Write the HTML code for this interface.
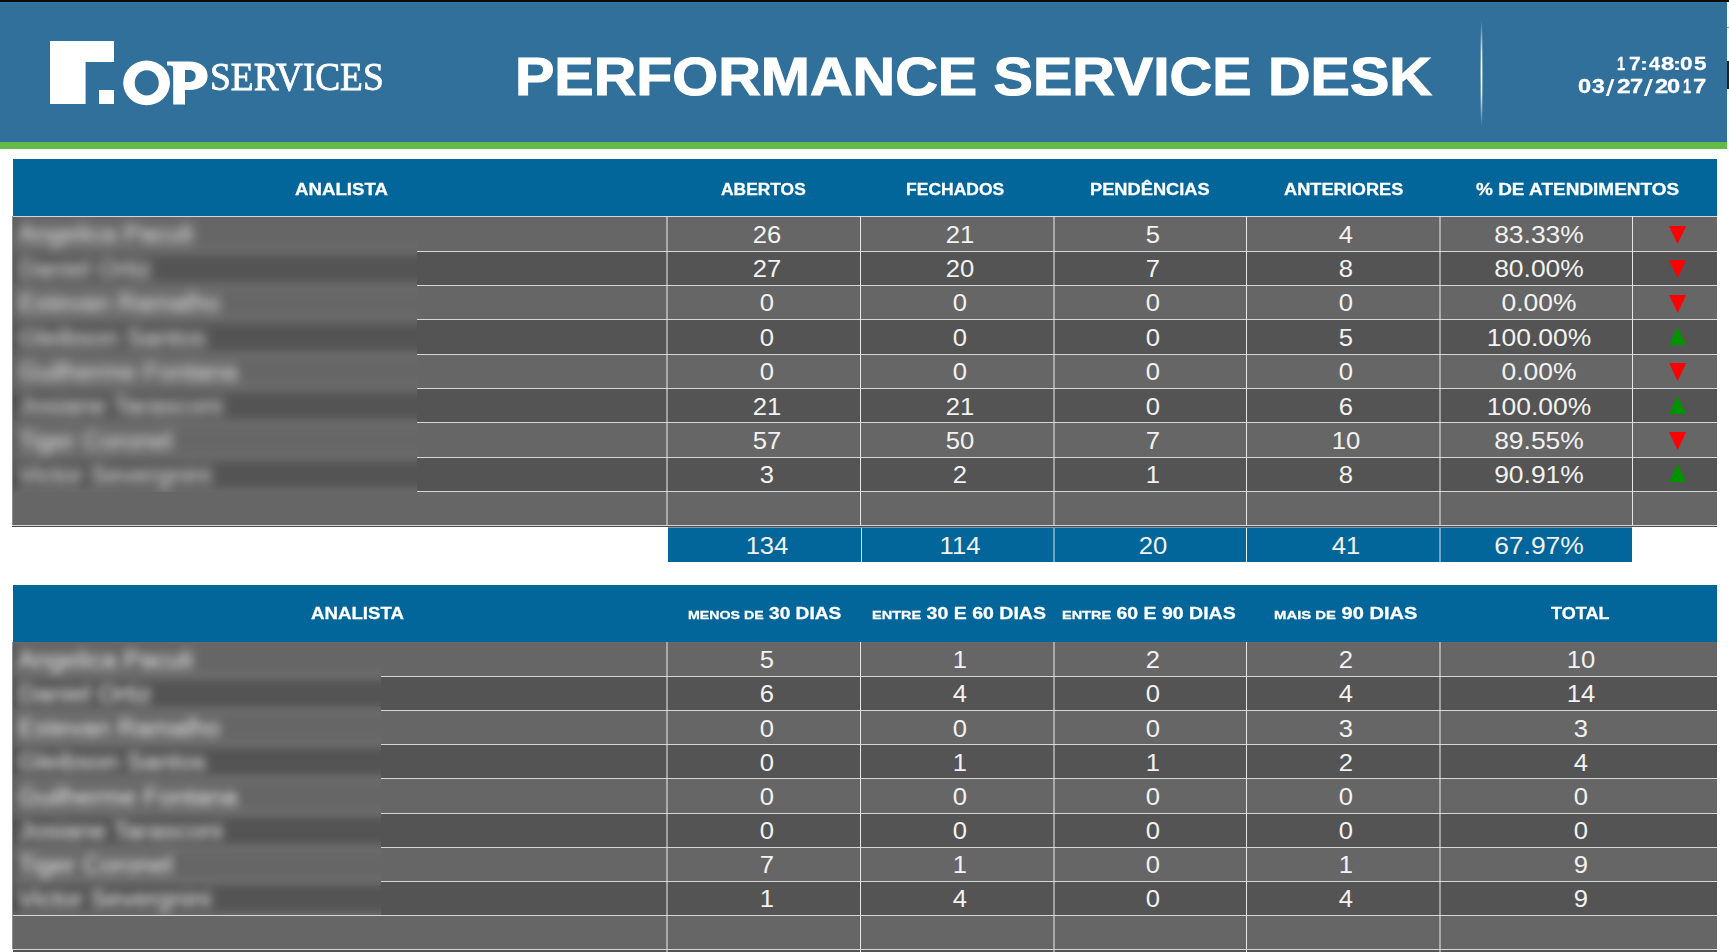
<!DOCTYPE html><html><head><meta charset="utf-8"><title>Performance Service Desk</title><style>
*{margin:0;padding:0;box-sizing:border-box}
html,body{width:1729px;height:952px;overflow:hidden;background:#fff}
body{position:relative;font-family:"Liberation Sans",sans-serif}
.a{position:absolute}
.t{position:absolute;white-space:nowrap;line-height:1;transform-origin:0 0}
.c{position:absolute;white-space:nowrap;line-height:1}
</style></head><body>
<div class="a" style="left:0;top:0;width:1729px;height:2px;background:#0d0b0b"></div>
<div class="a" style="left:0;top:2px;width:1727px;height:140px;background:#30709b"></div>
<div class="a" style="left:0;top:2px;width:1727px;height:1px;background:#3379a4"></div>
<div class="a" style="left:0;top:142px;width:1727px;height:7px;background:#63ba47"></div>
<div class="a" style="left:1727px;top:2px;width:2px;height:148px;background:#f8f8f8"></div>
<div class="a" style="left:1727px;top:27px;width:2px;height:1px;background:#999"></div>
<div class="a" style="left:1727px;top:61px;width:2px;height:28px;background:#222"></div>
<svg class="a" style="left:0;top:0" width="420" height="140" viewBox="0 0 420 140">
<path fill="#fff" d="M50,41H114V62H85.6V104H50Z M99,90H114V104H99Z"/>
<path fill="#fff" fill-rule="evenodd" d="M123.2,82.9a23.4,22.4 0 1,0 46.8,0a23.4,22.4 0 1,0 -46.8,0Z M134.7,82.9a12.05,12.6 0 1,0 24.1,0a12.05,12.6 0 1,0 -24.1,0Z"/>
<path fill="#fff" fill-rule="evenodd" d="M167.1,61.4H189C200.5,61.4 207.6,67 207.6,75.7C207.6,84.5 200.5,90 189,90H185V104.6H173.2V68.4C173.2,66.3 172.2,65.4 170,65.4H167.1Z M185,70.1H189.3C193.5,70.1 195.7,72.6 195.7,76C195.7,79.4 193.5,81.9 189.3,81.9H185Z"/>
</svg>
<div class="t" style="left:209.84px;top:55.82px;transform:scale(0.8808,0.9633);font-family:'Liberation Serif',serif;font-size:42.5px;color:#fff;-webkit-text-stroke-width:0.8px">SERVICES</div>
<div class="t" style="left:514.89px;top:49.62px;transform:scale(1.0351,0.9405);font-weight:bold;font-size:57px;color:#fff;-webkit-text-stroke-width:1.2px">PERFORMANCE SERVICE DESK</div>
<div class="a" style="left:1481px;top:20px;width:1px;height:107px;background:linear-gradient(to bottom,rgba(255,255,255,0),rgba(255,255,255,.85) 30%,#fff 50%,rgba(255,255,255,.85) 70%,rgba(255,255,255,0))"></div>
<div class="a" style="left:1480px;top:24px;width:1px;height:99px;background:linear-gradient(to bottom,rgba(255,255,255,0),rgba(255,255,255,.3) 30%,rgba(255,255,255,.4) 50%,rgba(255,255,255,.3) 70%,rgba(255,255,255,0))"></div>
<div class="a" style="left:1482px;top:24px;width:1px;height:99px;background:linear-gradient(to bottom,rgba(255,255,255,0),rgba(255,255,255,.3) 30%,rgba(255,255,255,.4) 50%,rgba(255,255,255,.3) 70%,rgba(255,255,255,0))"></div>
<div class="t" style="left:1617.11px;top:54.06px;transform:scale(0.7400,0.9714);font-weight:bold;font-size:19.5px;color:#fff;-webkit-text-stroke-width:0.3px">1</div>
<div class="t" style="left:1628.61px;top:54.06px;transform:scale(1.0889,0.9714);font-weight:bold;font-size:19.5px;color:#fff;-webkit-text-stroke-width:0.3px">7</div>
<div class="t" style="left:1648.5px;top:54.06px;transform:scale(1.0182,0.9714);font-weight:bold;font-size:19.5px;color:#fff;-webkit-text-stroke-width:0.3px">4</div>
<div class="t" style="left:1660.58px;top:54.06px;transform:scale(1.2222,0.9714);font-weight:bold;font-size:19.5px;color:#fff;-webkit-text-stroke-width:0.3px">8</div>
<div class="t" style="left:1679.94px;top:54.06px;transform:scale(1.1556,0.9714);font-weight:bold;font-size:19.5px;color:#fff;-webkit-text-stroke-width:0.3px">0</div>
<div class="t" style="left:1693.54px;top:54.06px;transform:scale(1.1556,0.9714);font-weight:bold;font-size:19.5px;color:#fff;-webkit-text-stroke-width:0.3px">5</div>
<div class="t" style="left:1640.23px;top:56.65px;transform:scale(1.2333,0.8091);font-weight:bold;font-size:19.5px;color:#fff;-webkit-text-stroke-width:0.3px">:</div>
<div class="t" style="left:1672.63px;top:56.65px;transform:scale(1.2333,0.8091);font-weight:bold;font-size:19.5px;color:#fff;-webkit-text-stroke-width:0.3px">:</div>
<div class="t" style="left:1578.49px;top:77.1px;transform:scale(1.2111,1.0000);font-weight:bold;font-size:19.5px;color:#fff;-webkit-text-stroke-width:0.3px">0</div>
<div class="t" style="left:1591.8px;top:77.1px;transform:scale(1.1700,1.0000);font-weight:bold;font-size:19.5px;color:#fff;-webkit-text-stroke-width:0.3px">3</div>
<div class="t" style="left:1617.04px;top:77.1px;transform:scale(1.2556,1.0000);font-weight:bold;font-size:19.5px;color:#fff;-webkit-text-stroke-width:0.3px">2</div>
<div class="t" style="left:1629.99px;top:77.1px;transform:scale(1.2111,1.0000);font-weight:bold;font-size:19.5px;color:#fff;-webkit-text-stroke-width:0.3px">7</div>
<div class="t" style="left:1655.39px;top:77.1px;transform:scale(1.2111,1.0000);font-weight:bold;font-size:19.5px;color:#fff;-webkit-text-stroke-width:0.3px">2</div>
<div class="t" style="left:1667.49px;top:77.1px;transform:scale(1.2111,1.0000);font-weight:bold;font-size:19.5px;color:#fff;-webkit-text-stroke-width:0.3px">0</div>
<div class="t" style="left:1682.61px;top:77.1px;transform:scale(0.7400,1.0000);font-weight:bold;font-size:19.5px;color:#fff;-webkit-text-stroke-width:0.3px">1</div>
<div class="t" style="left:1693.18px;top:77.1px;transform:scale(1.2222,1.0000);font-weight:bold;font-size:19.5px;color:#fff;-webkit-text-stroke-width:0.3px">7</div>
<svg class="a" style="left:0;top:0;overflow:visible" width="1" height="1"><path fill="#fff" d="M1605.8,95.9L1608.7,95.9L1614.4,79.1L1611.5,79.1Z"/></svg>
<svg class="a" style="left:0;top:0;overflow:visible" width="1" height="1"><path fill="#fff" d="M1643.9,95.9L1646.8,95.9L1652.9,79.1L1650.0,79.1Z"/></svg>
<div class="a" style="left:13px;top:159px;width:1704px;height:57.3px;background:#02669a"></div>
<div class="a" style="left:13px;top:216.3px;width:1704px;height:34.35px;background:#666666"></div>
<div class="a" style="left:13px;top:250.65px;width:1704px;height:34.35px;background:#545454"></div>
<div class="a" style="left:13px;top:285px;width:1704px;height:34.35px;background:#666666"></div>
<div class="a" style="left:13px;top:319.35px;width:1704px;height:34.35px;background:#545454"></div>
<div class="a" style="left:13px;top:353.7px;width:1704px;height:34.35px;background:#666666"></div>
<div class="a" style="left:13px;top:388.05px;width:1704px;height:34.35px;background:#545454"></div>
<div class="a" style="left:13px;top:422.4px;width:1704px;height:34.35px;background:#666666"></div>
<div class="a" style="left:13px;top:456.75px;width:1704px;height:34.35px;background:#545454"></div>
<div class="a" style="left:13px;top:491.1px;width:1704px;height:34.35px;background:#666666"></div>
<div class="a" style="left:12px;top:216.3px;width:1705px;height:1px;background:#d6d6d6"></div>
<div class="a" style="left:12px;top:250.65px;width:1705px;height:1px;background:#d6d6d6"></div>
<div class="a" style="left:12px;top:285px;width:1705px;height:1px;background:#d6d6d6"></div>
<div class="a" style="left:12px;top:319.35px;width:1705px;height:1px;background:#d6d6d6"></div>
<div class="a" style="left:12px;top:353.7px;width:1705px;height:1px;background:#d6d6d6"></div>
<div class="a" style="left:12px;top:388.05px;width:1705px;height:1px;background:#d6d6d6"></div>
<div class="a" style="left:12px;top:422.4px;width:1705px;height:1px;background:#d6d6d6"></div>
<div class="a" style="left:12px;top:456.75px;width:1705px;height:1px;background:#d6d6d6"></div>
<div class="a" style="left:12px;top:491.1px;width:1705px;height:1px;background:#d6d6d6"></div>
<div class="a" style="left:12px;top:525.45px;width:1705px;height:1px;background:#d6d6d6"></div>
<div class="a" style="left:666px;top:216.3px;width:2px;height:309.15px;background:rgba(236,236,236,0.5)"></div>
<div class="a" style="left:860px;top:216.3px;width:1px;height:309.15px;background:#e6e6e6"></div>
<div class="a" style="left:1053px;top:216.3px;width:2px;height:309.15px;background:rgba(236,236,236,0.5)"></div>
<div class="a" style="left:1246px;top:216.3px;width:1px;height:309.15px;background:#e6e6e6"></div>
<div class="a" style="left:1439px;top:216.3px;width:2px;height:309.15px;background:rgba(236,236,236,0.5)"></div>
<div class="a" style="left:1632px;top:216.3px;width:1px;height:309.15px;background:#e6e6e6"></div>
<div class="a" style="left:12px;top:216.3px;width:1px;height:309.15px;background:#8e8e8e"></div>
<div class="c" style="left:767.2px;top:235.78px;transform:translate(-50%,-50%) scaleX(1.090);font-size:23.5px;color:#f2f2f2">26</div>
<div class="c" style="left:959.5px;top:235.78px;transform:translate(-50%,-50%) scaleX(1.090);font-size:23.5px;color:#f2f2f2">21</div>
<div class="c" style="left:1153px;top:235.78px;transform:translate(-50%,-50%) scaleX(1.090);font-size:23.5px;color:#f2f2f2">5</div>
<div class="c" style="left:1346px;top:235.78px;transform:translate(-50%,-50%) scaleX(1.090);font-size:23.5px;color:#f2f2f2">4</div>
<div class="c" style="left:1538.5px;top:235.78px;transform:translate(-50%,-50%) scaleX(1.125);font-size:23.5px;color:#f2f2f2">83.33%</div>
<svg class="a" style="left:1668.9px;top:225.8px" width="17.2" height="18" viewBox="0 0 17.2 18"><path d="M0,0H17.2L8.6,18Z" fill="#ff0000"/></svg>
<div class="c" style="left:767.2px;top:270.12px;transform:translate(-50%,-50%) scaleX(1.090);font-size:23.5px;color:#f2f2f2">27</div>
<div class="c" style="left:959.5px;top:270.12px;transform:translate(-50%,-50%) scaleX(1.090);font-size:23.5px;color:#f2f2f2">20</div>
<div class="c" style="left:1153px;top:270.12px;transform:translate(-50%,-50%) scaleX(1.090);font-size:23.5px;color:#f2f2f2">7</div>
<div class="c" style="left:1346px;top:270.12px;transform:translate(-50%,-50%) scaleX(1.090);font-size:23.5px;color:#f2f2f2">8</div>
<div class="c" style="left:1538.5px;top:270.12px;transform:translate(-50%,-50%) scaleX(1.125);font-size:23.5px;color:#f2f2f2">80.00%</div>
<svg class="a" style="left:1668.9px;top:260.15px" width="17.2" height="18" viewBox="0 0 17.2 18"><path d="M0,0H17.2L8.6,18Z" fill="#ff0000"/></svg>
<div class="c" style="left:767.2px;top:304.48px;transform:translate(-50%,-50%) scaleX(1.090);font-size:23.5px;color:#f2f2f2">0</div>
<div class="c" style="left:959.5px;top:304.48px;transform:translate(-50%,-50%) scaleX(1.090);font-size:23.5px;color:#f2f2f2">0</div>
<div class="c" style="left:1153px;top:304.48px;transform:translate(-50%,-50%) scaleX(1.090);font-size:23.5px;color:#f2f2f2">0</div>
<div class="c" style="left:1346px;top:304.48px;transform:translate(-50%,-50%) scaleX(1.090);font-size:23.5px;color:#f2f2f2">0</div>
<div class="c" style="left:1538.5px;top:304.48px;transform:translate(-50%,-50%) scaleX(1.125);font-size:23.5px;color:#f2f2f2">0.00%</div>
<svg class="a" style="left:1668.9px;top:294.5px" width="17.2" height="18" viewBox="0 0 17.2 18"><path d="M0,0H17.2L8.6,18Z" fill="#ff0000"/></svg>
<div class="c" style="left:767.2px;top:338.83px;transform:translate(-50%,-50%) scaleX(1.090);font-size:23.5px;color:#f2f2f2">0</div>
<div class="c" style="left:959.5px;top:338.83px;transform:translate(-50%,-50%) scaleX(1.090);font-size:23.5px;color:#f2f2f2">0</div>
<div class="c" style="left:1153px;top:338.83px;transform:translate(-50%,-50%) scaleX(1.090);font-size:23.5px;color:#f2f2f2">0</div>
<div class="c" style="left:1346px;top:338.83px;transform:translate(-50%,-50%) scaleX(1.090);font-size:23.5px;color:#f2f2f2">5</div>
<div class="c" style="left:1538.5px;top:338.83px;transform:translate(-50%,-50%) scaleX(1.125);font-size:23.5px;color:#f2f2f2">100.00%</div>
<svg class="a" style="left:1668.9px;top:326.95px" width="17.2" height="18" viewBox="0 0 17.2 18"><path d="M8.6,0L17.2,18H0Z" fill="#009300"/></svg>
<div class="c" style="left:767.2px;top:373.18px;transform:translate(-50%,-50%) scaleX(1.090);font-size:23.5px;color:#f2f2f2">0</div>
<div class="c" style="left:959.5px;top:373.18px;transform:translate(-50%,-50%) scaleX(1.090);font-size:23.5px;color:#f2f2f2">0</div>
<div class="c" style="left:1153px;top:373.18px;transform:translate(-50%,-50%) scaleX(1.090);font-size:23.5px;color:#f2f2f2">0</div>
<div class="c" style="left:1346px;top:373.18px;transform:translate(-50%,-50%) scaleX(1.090);font-size:23.5px;color:#f2f2f2">0</div>
<div class="c" style="left:1538.5px;top:373.18px;transform:translate(-50%,-50%) scaleX(1.125);font-size:23.5px;color:#f2f2f2">0.00%</div>
<svg class="a" style="left:1668.9px;top:363.2px" width="17.2" height="18" viewBox="0 0 17.2 18"><path d="M0,0H17.2L8.6,18Z" fill="#ff0000"/></svg>
<div class="c" style="left:767.2px;top:407.53px;transform:translate(-50%,-50%) scaleX(1.090);font-size:23.5px;color:#f2f2f2">21</div>
<div class="c" style="left:959.5px;top:407.53px;transform:translate(-50%,-50%) scaleX(1.090);font-size:23.5px;color:#f2f2f2">21</div>
<div class="c" style="left:1153px;top:407.53px;transform:translate(-50%,-50%) scaleX(1.090);font-size:23.5px;color:#f2f2f2">0</div>
<div class="c" style="left:1346px;top:407.53px;transform:translate(-50%,-50%) scaleX(1.090);font-size:23.5px;color:#f2f2f2">6</div>
<div class="c" style="left:1538.5px;top:407.53px;transform:translate(-50%,-50%) scaleX(1.125);font-size:23.5px;color:#f2f2f2">100.00%</div>
<svg class="a" style="left:1668.9px;top:395.65px" width="17.2" height="18" viewBox="0 0 17.2 18"><path d="M8.6,0L17.2,18H0Z" fill="#009300"/></svg>
<div class="c" style="left:767.2px;top:441.88px;transform:translate(-50%,-50%) scaleX(1.090);font-size:23.5px;color:#f2f2f2">57</div>
<div class="c" style="left:959.5px;top:441.88px;transform:translate(-50%,-50%) scaleX(1.090);font-size:23.5px;color:#f2f2f2">50</div>
<div class="c" style="left:1153px;top:441.88px;transform:translate(-50%,-50%) scaleX(1.090);font-size:23.5px;color:#f2f2f2">7</div>
<div class="c" style="left:1346px;top:441.88px;transform:translate(-50%,-50%) scaleX(1.090);font-size:23.5px;color:#f2f2f2">10</div>
<div class="c" style="left:1538.5px;top:441.88px;transform:translate(-50%,-50%) scaleX(1.125);font-size:23.5px;color:#f2f2f2">89.55%</div>
<svg class="a" style="left:1668.9px;top:431.9px" width="17.2" height="18" viewBox="0 0 17.2 18"><path d="M0,0H17.2L8.6,18Z" fill="#ff0000"/></svg>
<div class="c" style="left:767.2px;top:476.23px;transform:translate(-50%,-50%) scaleX(1.090);font-size:23.5px;color:#f2f2f2">3</div>
<div class="c" style="left:959.5px;top:476.23px;transform:translate(-50%,-50%) scaleX(1.090);font-size:23.5px;color:#f2f2f2">2</div>
<div class="c" style="left:1153px;top:476.23px;transform:translate(-50%,-50%) scaleX(1.090);font-size:23.5px;color:#f2f2f2">1</div>
<div class="c" style="left:1346px;top:476.23px;transform:translate(-50%,-50%) scaleX(1.090);font-size:23.5px;color:#f2f2f2">8</div>
<div class="c" style="left:1538.5px;top:476.23px;transform:translate(-50%,-50%) scaleX(1.125);font-size:23.5px;color:#f2f2f2">90.91%</div>
<svg class="a" style="left:1668.9px;top:464.35px" width="17.2" height="18" viewBox="0 0 17.2 18"><path d="M8.6,0L17.2,18H0Z" fill="#009300"/></svg>
<div class="a" style="left:13px;top:217.3px;width:404px;height:274.3px;overflow:hidden">
<div class="a" style="left:-30px;top:-30px;width:464px;height:334.3px;filter:blur(5.5px)">
<div class="a" style="left:0;top:-5.35px;width:100%;height:34.85px;background:#666666"></div>
<div class="a" style="left:0;top:29px;width:100%;height:34.85px;background:#666666"></div>
<div class="a" style="left:0;top:63.35px;width:100%;height:34.85px;background:#545454"></div>
<div class="a" style="left:0;top:97.7px;width:100%;height:34.85px;background:#666666"></div>
<div class="a" style="left:0;top:132.05px;width:100%;height:34.85px;background:#545454"></div>
<div class="a" style="left:0;top:166.4px;width:100%;height:34.85px;background:#666666"></div>
<div class="a" style="left:0;top:200.75px;width:100%;height:34.85px;background:#545454"></div>
<div class="a" style="left:0;top:235.1px;width:100%;height:34.85px;background:#666666"></div>
<div class="a" style="left:0;top:269.45px;width:100%;height:34.85px;background:#545454"></div>
<div class="a" style="left:0;top:303.8px;width:100%;height:34.85px;background:#666666"></div>
<div class="a" style="left:0;top:63.35px;width:100%;height:1px;background:#d6d6d6"></div>
<div class="a" style="left:0;top:97.7px;width:100%;height:1px;background:#d6d6d6"></div>
<div class="a" style="left:0;top:132.05px;width:100%;height:1px;background:#d6d6d6"></div>
<div class="a" style="left:0;top:166.4px;width:100%;height:1px;background:#d6d6d6"></div>
<div class="a" style="left:0;top:200.75px;width:100%;height:1px;background:#d6d6d6"></div>
<div class="a" style="left:0;top:235.1px;width:100%;height:1px;background:#d6d6d6"></div>
<div class="a" style="left:0;top:269.45px;width:100%;height:1px;background:#d6d6d6"></div>
<div class="a" style="left:0;top:303.8px;width:100%;height:1px;background:#d6d6d6"></div>
<div class="a" style="left:28px;top:0;width:3px;height:100%;background:#4a4a4a"></div>
<div class="c" style="left:35px;top:48.18px;transform:translateY(-50%) scaleX(1.09);transform-origin:0 50%;font-size:23.5px;color:#f2f2f2;color:#f0f0f0">Angelica Paculi</div>
<div class="c" style="left:35px;top:82.52px;transform:translateY(-50%) scaleX(1.09);transform-origin:0 50%;font-size:23.5px;color:#f2f2f2;color:#f0f0f0">Daniel Ortiz</div>
<div class="c" style="left:35px;top:116.88px;transform:translateY(-50%) scaleX(1.09);transform-origin:0 50%;font-size:23.5px;color:#f2f2f2;color:#f0f0f0">Estevan Ramalho</div>
<div class="c" style="left:35px;top:151.23px;transform:translateY(-50%) scaleX(1.09);transform-origin:0 50%;font-size:23.5px;color:#f2f2f2;color:#f0f0f0">Gleibson Santos</div>
<div class="c" style="left:35px;top:185.58px;transform:translateY(-50%) scaleX(1.09);transform-origin:0 50%;font-size:23.5px;color:#f2f2f2;color:#f0f0f0">Guilherme Fontana</div>
<div class="c" style="left:35px;top:219.93px;transform:translateY(-50%) scaleX(1.09);transform-origin:0 50%;font-size:23.5px;color:#f2f2f2;color:#f0f0f0">Josiane Tarasconi</div>
<div class="c" style="left:35px;top:254.28px;transform:translateY(-50%) scaleX(1.09);transform-origin:0 50%;font-size:23.5px;color:#f2f2f2;color:#f0f0f0">Tiger Coronel</div>
<div class="c" style="left:35px;top:288.62px;transform:translateY(-50%) scaleX(1.09);transform-origin:0 50%;font-size:23.5px;color:#f2f2f2;color:#f0f0f0">Victor Severgnini</div>
</div></div>
<div class="t" style="left:294.8px;top:181.78px;transform:scale(1.0655,0.9231);font-weight:bold;font-size:17.5px;color:#fff;-webkit-text-stroke-width:0.3px">ANALISTA</div>
<div class="t" style="left:721px;top:181.78px;transform:scale(0.9941,0.9231);font-weight:bold;font-size:17.5px;color:#fff;-webkit-text-stroke-width:0.3px">ABERTOS</div>
<div class="t" style="left:906.4px;top:181.78px;transform:scale(1.0010,0.9231);font-weight:bold;font-size:17.5px;color:#fff;-webkit-text-stroke-width:0.3px">FECHADOS</div>
<div class="t" style="left:1284px;top:181.78px;transform:scale(1.0404,0.9231);font-weight:bold;font-size:17.5px;color:#fff;-webkit-text-stroke-width:0.3px">ANTERIORES</div>
<div class="t" style="left:1475.9px;top:181.78px;transform:scale(1.0850,0.9231);font-weight:bold;font-size:17.5px;color:#fff;-webkit-text-stroke-width:0.3px">% DE ATENDIMENTOS</div>
<div class="t" style="left:1090.06px;top:181.05px;transform:scale(1.0434,0.9824);font-weight:bold;font-size:17.5px;color:#fff;-webkit-text-stroke-width:0.3px">PEND&Ecirc;NCIAS</div>
<div class="a" style="left:12px;top:526px;width:1705px;height:1px;background:#4c4c4c"></div>
<div class="a" style="left:668px;top:527px;width:964px;height:1px;background:#7f98a8"></div>
<div class="a" style="left:668px;top:528px;width:964px;height:34px;background:#02669a"></div>
<div class="a" style="left:861px;top:528px;width:1px;height:34px;background:rgba(255,255,255,0.8)"></div>
<div class="a" style="left:1053px;top:528px;width:2px;height:34px;background:rgba(255,255,255,0.42)"></div>
<div class="a" style="left:1246px;top:528px;width:1px;height:34px;background:rgba(255,255,255,0.9)"></div>
<div class="a" style="left:1439px;top:528px;width:2px;height:34px;background:rgba(255,255,255,0.42)"></div>
<div class="c" style="left:767.2px;top:547px;transform:translate(-50%,-50%) scaleX(1.090);font-size:23.5px;color:#f2f2f2">134</div>
<div class="c" style="left:959.5px;top:547px;transform:translate(-50%,-50%) scaleX(1.090);font-size:23.5px;color:#f2f2f2">114</div>
<div class="c" style="left:1153px;top:547px;transform:translate(-50%,-50%) scaleX(1.090);font-size:23.5px;color:#f2f2f2">20</div>
<div class="c" style="left:1346px;top:547px;transform:translate(-50%,-50%) scaleX(1.090);font-size:23.5px;color:#f2f2f2">41</div>
<div class="c" style="left:1538.5px;top:547px;transform:translate(-50%,-50%) scaleX(1.125);font-size:23.5px;color:#f2f2f2">67.97%</div>
<div class="a" style="left:13px;top:585.2px;width:1704px;height:56.8px;background:#02669a"></div>
<div class="a" style="left:13px;top:642px;width:1704px;height:34.11px;background:#666666"></div>
<div class="a" style="left:13px;top:676.11px;width:1704px;height:34.11px;background:#545454"></div>
<div class="a" style="left:13px;top:710.22px;width:1704px;height:34.11px;background:#666666"></div>
<div class="a" style="left:13px;top:744.33px;width:1704px;height:34.11px;background:#545454"></div>
<div class="a" style="left:13px;top:778.44px;width:1704px;height:34.11px;background:#666666"></div>
<div class="a" style="left:13px;top:812.55px;width:1704px;height:34.11px;background:#545454"></div>
<div class="a" style="left:13px;top:846.66px;width:1704px;height:34.11px;background:#666666"></div>
<div class="a" style="left:13px;top:880.77px;width:1704px;height:34.11px;background:#545454"></div>
<div class="a" style="left:13px;top:914.88px;width:1704px;height:34.11px;background:#666666"></div>
<div class="a" style="left:12px;top:642px;width:1705px;height:1px;background:#6b6764"></div>
<div class="a" style="left:12px;top:676.11px;width:1705px;height:1px;background:#d6d6d6"></div>
<div class="a" style="left:12px;top:710.22px;width:1705px;height:1px;background:#d6d6d6"></div>
<div class="a" style="left:12px;top:744.33px;width:1705px;height:1px;background:#d6d6d6"></div>
<div class="a" style="left:12px;top:778.44px;width:1705px;height:1px;background:#d6d6d6"></div>
<div class="a" style="left:12px;top:812.55px;width:1705px;height:1px;background:#d6d6d6"></div>
<div class="a" style="left:12px;top:846.66px;width:1705px;height:1px;background:#d6d6d6"></div>
<div class="a" style="left:12px;top:880.77px;width:1705px;height:1px;background:#d6d6d6"></div>
<div class="a" style="left:12px;top:914.88px;width:1705px;height:1px;background:#d6d6d6"></div>
<div class="a" style="left:12px;top:948.99px;width:1705px;height:1px;background:#d6d6d6"></div>
<div class="a" style="left:666px;top:642px;width:2px;height:306.99px;background:rgba(236,236,236,0.5)"></div>
<div class="a" style="left:860px;top:642px;width:1px;height:306.99px;background:#e6e6e6"></div>
<div class="a" style="left:1053px;top:642px;width:2px;height:306.99px;background:rgba(236,236,236,0.5)"></div>
<div class="a" style="left:1246px;top:642px;width:1px;height:306.99px;background:#e6e6e6"></div>
<div class="a" style="left:1439px;top:642px;width:2px;height:306.99px;background:rgba(236,236,236,0.5)"></div>
<div class="a" style="left:12px;top:642px;width:1px;height:306.99px;background:#8e8e8e"></div>
<div class="c" style="left:767.2px;top:661.35px;transform:translate(-50%,-50%) scaleX(1.090);font-size:23.5px;color:#f2f2f2">5</div>
<div class="c" style="left:959.5px;top:661.35px;transform:translate(-50%,-50%) scaleX(1.090);font-size:23.5px;color:#f2f2f2">1</div>
<div class="c" style="left:1153px;top:661.35px;transform:translate(-50%,-50%) scaleX(1.090);font-size:23.5px;color:#f2f2f2">2</div>
<div class="c" style="left:1346px;top:661.35px;transform:translate(-50%,-50%) scaleX(1.090);font-size:23.5px;color:#f2f2f2">2</div>
<div class="c" style="left:1581px;top:661.35px;transform:translate(-50%,-50%) scaleX(1.090);font-size:23.5px;color:#f2f2f2">10</div>
<div class="c" style="left:767.2px;top:695.46px;transform:translate(-50%,-50%) scaleX(1.090);font-size:23.5px;color:#f2f2f2">6</div>
<div class="c" style="left:959.5px;top:695.46px;transform:translate(-50%,-50%) scaleX(1.090);font-size:23.5px;color:#f2f2f2">4</div>
<div class="c" style="left:1153px;top:695.46px;transform:translate(-50%,-50%) scaleX(1.090);font-size:23.5px;color:#f2f2f2">0</div>
<div class="c" style="left:1346px;top:695.46px;transform:translate(-50%,-50%) scaleX(1.090);font-size:23.5px;color:#f2f2f2">4</div>
<div class="c" style="left:1581px;top:695.46px;transform:translate(-50%,-50%) scaleX(1.090);font-size:23.5px;color:#f2f2f2">14</div>
<div class="c" style="left:767.2px;top:729.57px;transform:translate(-50%,-50%) scaleX(1.090);font-size:23.5px;color:#f2f2f2">0</div>
<div class="c" style="left:959.5px;top:729.57px;transform:translate(-50%,-50%) scaleX(1.090);font-size:23.5px;color:#f2f2f2">0</div>
<div class="c" style="left:1153px;top:729.57px;transform:translate(-50%,-50%) scaleX(1.090);font-size:23.5px;color:#f2f2f2">0</div>
<div class="c" style="left:1346px;top:729.57px;transform:translate(-50%,-50%) scaleX(1.090);font-size:23.5px;color:#f2f2f2">3</div>
<div class="c" style="left:1581px;top:729.57px;transform:translate(-50%,-50%) scaleX(1.090);font-size:23.5px;color:#f2f2f2">3</div>
<div class="c" style="left:767.2px;top:763.68px;transform:translate(-50%,-50%) scaleX(1.090);font-size:23.5px;color:#f2f2f2">0</div>
<div class="c" style="left:959.5px;top:763.68px;transform:translate(-50%,-50%) scaleX(1.090);font-size:23.5px;color:#f2f2f2">1</div>
<div class="c" style="left:1153px;top:763.68px;transform:translate(-50%,-50%) scaleX(1.090);font-size:23.5px;color:#f2f2f2">1</div>
<div class="c" style="left:1346px;top:763.68px;transform:translate(-50%,-50%) scaleX(1.090);font-size:23.5px;color:#f2f2f2">2</div>
<div class="c" style="left:1581px;top:763.68px;transform:translate(-50%,-50%) scaleX(1.090);font-size:23.5px;color:#f2f2f2">4</div>
<div class="c" style="left:767.2px;top:797.79px;transform:translate(-50%,-50%) scaleX(1.090);font-size:23.5px;color:#f2f2f2">0</div>
<div class="c" style="left:959.5px;top:797.79px;transform:translate(-50%,-50%) scaleX(1.090);font-size:23.5px;color:#f2f2f2">0</div>
<div class="c" style="left:1153px;top:797.79px;transform:translate(-50%,-50%) scaleX(1.090);font-size:23.5px;color:#f2f2f2">0</div>
<div class="c" style="left:1346px;top:797.79px;transform:translate(-50%,-50%) scaleX(1.090);font-size:23.5px;color:#f2f2f2">0</div>
<div class="c" style="left:1581px;top:797.79px;transform:translate(-50%,-50%) scaleX(1.090);font-size:23.5px;color:#f2f2f2">0</div>
<div class="c" style="left:767.2px;top:831.9px;transform:translate(-50%,-50%) scaleX(1.090);font-size:23.5px;color:#f2f2f2">0</div>
<div class="c" style="left:959.5px;top:831.9px;transform:translate(-50%,-50%) scaleX(1.090);font-size:23.5px;color:#f2f2f2">0</div>
<div class="c" style="left:1153px;top:831.9px;transform:translate(-50%,-50%) scaleX(1.090);font-size:23.5px;color:#f2f2f2">0</div>
<div class="c" style="left:1346px;top:831.9px;transform:translate(-50%,-50%) scaleX(1.090);font-size:23.5px;color:#f2f2f2">0</div>
<div class="c" style="left:1581px;top:831.9px;transform:translate(-50%,-50%) scaleX(1.090);font-size:23.5px;color:#f2f2f2">0</div>
<div class="c" style="left:767.2px;top:866.01px;transform:translate(-50%,-50%) scaleX(1.090);font-size:23.5px;color:#f2f2f2">7</div>
<div class="c" style="left:959.5px;top:866.01px;transform:translate(-50%,-50%) scaleX(1.090);font-size:23.5px;color:#f2f2f2">1</div>
<div class="c" style="left:1153px;top:866.01px;transform:translate(-50%,-50%) scaleX(1.090);font-size:23.5px;color:#f2f2f2">0</div>
<div class="c" style="left:1346px;top:866.01px;transform:translate(-50%,-50%) scaleX(1.090);font-size:23.5px;color:#f2f2f2">1</div>
<div class="c" style="left:1581px;top:866.01px;transform:translate(-50%,-50%) scaleX(1.090);font-size:23.5px;color:#f2f2f2">9</div>
<div class="c" style="left:767.2px;top:900.12px;transform:translate(-50%,-50%) scaleX(1.090);font-size:23.5px;color:#f2f2f2">1</div>
<div class="c" style="left:959.5px;top:900.12px;transform:translate(-50%,-50%) scaleX(1.090);font-size:23.5px;color:#f2f2f2">4</div>
<div class="c" style="left:1153px;top:900.12px;transform:translate(-50%,-50%) scaleX(1.090);font-size:23.5px;color:#f2f2f2">0</div>
<div class="c" style="left:1346px;top:900.12px;transform:translate(-50%,-50%) scaleX(1.090);font-size:23.5px;color:#f2f2f2">4</div>
<div class="c" style="left:1581px;top:900.12px;transform:translate(-50%,-50%) scaleX(1.090);font-size:23.5px;color:#f2f2f2">9</div>
<div class="a" style="left:13px;top:643px;width:368px;height:272.38px;overflow:hidden">
<div class="a" style="left:-30px;top:-30px;width:428px;height:332.38px;filter:blur(5px)">
<div class="a" style="left:0;top:-5.11px;width:100%;height:34.61px;background:#666666"></div>
<div class="a" style="left:0;top:29px;width:100%;height:34.61px;background:#666666"></div>
<div class="a" style="left:0;top:63.11px;width:100%;height:34.61px;background:#545454"></div>
<div class="a" style="left:0;top:97.22px;width:100%;height:34.61px;background:#666666"></div>
<div class="a" style="left:0;top:131.33px;width:100%;height:34.61px;background:#545454"></div>
<div class="a" style="left:0;top:165.44px;width:100%;height:34.61px;background:#666666"></div>
<div class="a" style="left:0;top:199.55px;width:100%;height:34.61px;background:#545454"></div>
<div class="a" style="left:0;top:233.66px;width:100%;height:34.61px;background:#666666"></div>
<div class="a" style="left:0;top:267.77px;width:100%;height:34.61px;background:#545454"></div>
<div class="a" style="left:0;top:301.88px;width:100%;height:34.61px;background:#666666"></div>
<div class="a" style="left:0;top:63.11px;width:100%;height:1px;background:#d6d6d6"></div>
<div class="a" style="left:0;top:97.22px;width:100%;height:1px;background:#d6d6d6"></div>
<div class="a" style="left:0;top:131.33px;width:100%;height:1px;background:#d6d6d6"></div>
<div class="a" style="left:0;top:165.44px;width:100%;height:1px;background:#d6d6d6"></div>
<div class="a" style="left:0;top:199.55px;width:100%;height:1px;background:#d6d6d6"></div>
<div class="a" style="left:0;top:233.66px;width:100%;height:1px;background:#d6d6d6"></div>
<div class="a" style="left:0;top:267.77px;width:100%;height:1px;background:#d6d6d6"></div>
<div class="a" style="left:0;top:301.88px;width:100%;height:1px;background:#d6d6d6"></div>
<div class="a" style="left:28px;top:0;width:3px;height:100%;background:#4a4a4a"></div>
<div class="c" style="left:35px;top:48.05px;transform:translateY(-50%) scaleX(1.09);transform-origin:0 50%;font-size:23.5px;color:#f2f2f2;color:#f0f0f0">Angelica Paculi</div>
<div class="c" style="left:35px;top:82.16px;transform:translateY(-50%) scaleX(1.09);transform-origin:0 50%;font-size:23.5px;color:#f2f2f2;color:#f0f0f0">Daniel Ortiz</div>
<div class="c" style="left:35px;top:116.27px;transform:translateY(-50%) scaleX(1.09);transform-origin:0 50%;font-size:23.5px;color:#f2f2f2;color:#f0f0f0">Estevan Ramalho</div>
<div class="c" style="left:35px;top:150.38px;transform:translateY(-50%) scaleX(1.09);transform-origin:0 50%;font-size:23.5px;color:#f2f2f2;color:#f0f0f0">Gleibson Santos</div>
<div class="c" style="left:35px;top:184.5px;transform:translateY(-50%) scaleX(1.09);transform-origin:0 50%;font-size:23.5px;color:#f2f2f2;color:#f0f0f0">Guilherme Fontana</div>
<div class="c" style="left:35px;top:218.6px;transform:translateY(-50%) scaleX(1.09);transform-origin:0 50%;font-size:23.5px;color:#f2f2f2;color:#f0f0f0">Josiane Tarasconi</div>
<div class="c" style="left:35px;top:252.71px;transform:translateY(-50%) scaleX(1.09);transform-origin:0 50%;font-size:23.5px;color:#f2f2f2;color:#f0f0f0">Tiger Coronel</div>
<div class="c" style="left:35px;top:286.82px;transform:translateY(-50%) scaleX(1.09);transform-origin:0 50%;font-size:23.5px;color:#f2f2f2;color:#f0f0f0">Victor Severgnini</div>
</div></div>
<div class="a" style="left:13px;top:950px;width:1704px;height:10px;background:#545454"></div>
<div class="a" style="left:666px;top:950px;width:2px;height:10px;background:rgba(236,236,236,0.5)"></div>
<div class="a" style="left:860px;top:950px;width:1px;height:10px;background:#e6e6e6"></div>
<div class="a" style="left:1053px;top:950px;width:2px;height:10px;background:rgba(236,236,236,0.5)"></div>
<div class="a" style="left:1246px;top:950px;width:1px;height:10px;background:#e6e6e6"></div>
<div class="a" style="left:1439px;top:950px;width:2px;height:10px;background:rgba(236,236,236,0.5)"></div>
<div class="t" style="left:310.9px;top:606.39px;transform:scale(1.0655,0.9077);font-weight:bold;font-size:17.5px;color:#fff;-webkit-text-stroke-width:0.3px">ANALISTA</div>
<div class="t" style="left:687.61px;top:606.39px;transform:scale(1.0921,0.9077);font-weight:bold;font-size:17.5px;color:#fff;-webkit-text-stroke-width:0.3px"><span style="font-size:13px">MENOS DE</span> 30 DIAS</div>
<div class="t" style="left:872.28px;top:606.39px;transform:scale(1.1156,0.9077);font-weight:bold;font-size:17.5px;color:#fff;-webkit-text-stroke-width:0.3px"><span style="font-size:13px">ENTRE</span> 30 E 60 DIAS</div>
<div class="t" style="left:1062.39px;top:606.39px;transform:scale(1.1136,0.9077);font-weight:bold;font-size:17.5px;color:#fff;-webkit-text-stroke-width:0.3px"><span style="font-size:13px">ENTRE</span> 60 E 90 DIAS</div>
<div class="t" style="left:1274.45px;top:606.39px;transform:scale(1.1452,0.9077);font-weight:bold;font-size:17.5px;color:#fff;-webkit-text-stroke-width:0.3px"><span style="font-size:13px">MAIS DE</span> 90 DIAS</div>
<div class="t" style="left:1551.2px;top:606.39px;transform:scale(1.0304,0.9077);font-weight:bold;font-size:17.5px;color:#fff;-webkit-text-stroke-width:0.3px">TOTAL</div>
</body></html>
